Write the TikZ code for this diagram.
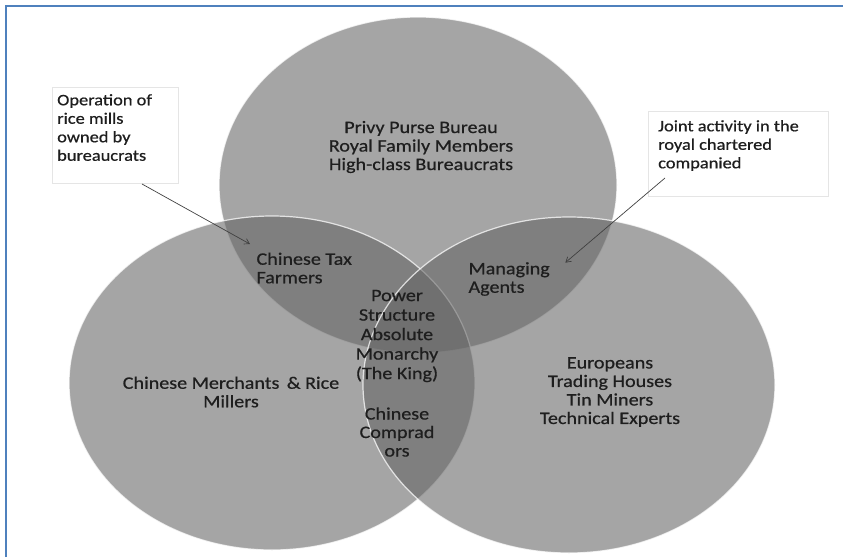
\documentclass[tikz,border=0pt]{standalone}
\usepackage{fontspec}
\setmainfont[FakeStretch=1.15,FakeBold=0.6]{Carlito}
\usetikzlibrary{arrows.meta}
\definecolor{setfill}{RGB}{100,100,100}
\definecolor{frameblue}{RGB}{79,129,189}
\definecolor{inktext}{RGB}{30,30,30}
\begin{document}
\begin{tikzpicture}[x=1pt,y=-1pt,
    setcircle/.style={fill=setfill,fill opacity=0.58,draw=white,draw opacity=0.75,line width=1.2pt},
    setlabel/.style={text=inktext,align=center,font=\fontsize{17.5}{18.5}\selectfont},
    calloutbox/.style={draw=gray!20,fill=white,inner sep=0pt},
    callouttext/.style={text=inktext,align=left,inner sep=0pt,font=\fontsize{16}{18.5}\selectfont},
    pointer/.style={draw=black!75,line width=0.7pt,-{Straight Barb[length=5pt,width=6pt]}}]
  \useasboundingbox (0,0) rectangle (843,557);
  \draw[frameblue,line width=2pt] (6,557) -- (6,6) -- (843,6);
  % the three sets
  \path[setcircle] (418,185) ellipse [x radius=199pt, y radius=168pt];
  \path[setcircle] (272,383) ellipse [x radius=203pt, y radius=167pt];
  \path[setcircle] (569,385) ellipse [x radius=206pt, y radius=168pt];
  % labels
  \node[setlabel] (royal) at (421,147) {Privy Purse Bureau\\Royal Family Members\\High-class Bureaucrats};
  \node[setlabel] (merchants) at (231,392) {Chinese Merchants \,\& Rice\\Millers};
  \node[setlabel] (europeans) at (610,392) {Europeans\\Trading Houses\\Tin Miners\\Technical Experts};
  \node[setlabel,align=left,anchor=west] (taxfarmers) at (253,268) {Chinese Tax\\Farmers};
  \node[setlabel,align=left,anchor=west] (agents) at (465,279) {Managing\\Agents};
  \node[setlabel,font=\fontsize{17.5}{19.5}\selectfont] (power) at (397,336) {Power\\Structure\\Absolute\\Monarchy\\(The King)};
  \node[setlabel] (compradors) at (397,432) {Chinese\\Comprad\\ors};
  % callouts
  \node[calloutbox,minimum width=126pt,minimum height=96pt,anchor=north west] (millbox) at (52,87) {};
  \node[callouttext,anchor=north west] (mills) at ([xshift=5pt,yshift=-7pt]millbox.north west) {Operation of\\rice mills\\owned by\\bureaucrats};
  \node[calloutbox,minimum width=180pt,minimum height=85pt,anchor=north west] (jointbox) at (648,111) {};
  \node[callouttext,anchor=north west] (joint) at ([xshift=10pt,yshift=-9pt]jointbox.north west) {Joint activity in the\\royal chartered\\companied};
  \coordinate (milltail) at (142,184);
  \coordinate (jointtail) at (665,178);
  \draw[pointer] (milltail) -- ([xshift=-3pt,yshift=5pt]taxfarmers.north west);
  \draw[pointer] (jointtail) -- ([xshift=12pt,yshift=-4pt]agents.north east);
\end{tikzpicture}
\end{document}
